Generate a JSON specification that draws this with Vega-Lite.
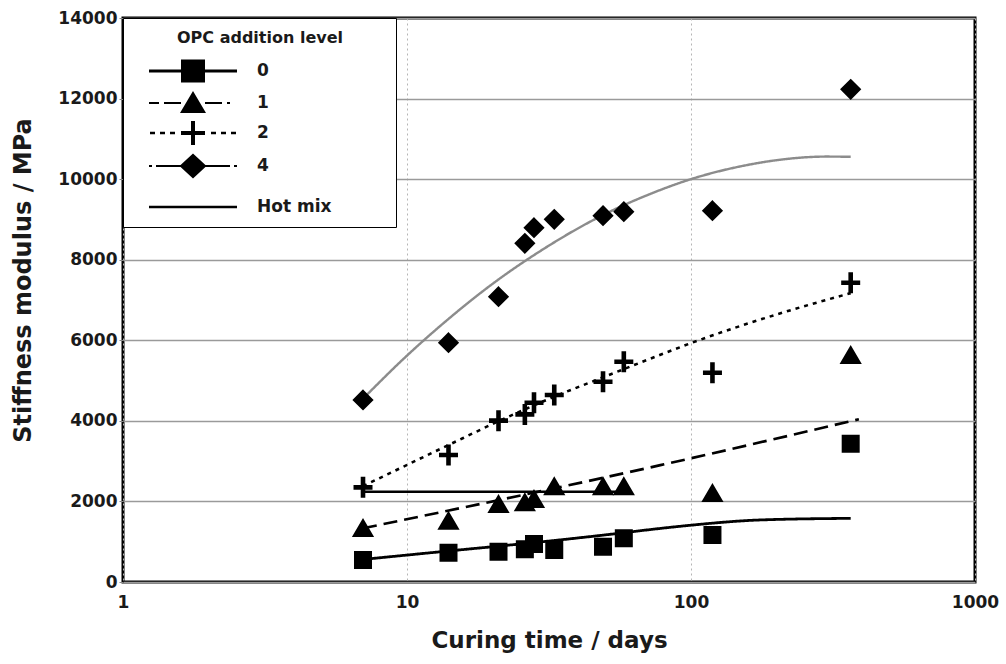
{
  "$schema": "https://vega.github.io/schema/vega-lite/v6.json",
  "width": 852,
  "height": 564,
  "autosize": {"type": "none"},
  "padding": {"left": 123, "top": 18, "right": 31, "bottom": 82},
  "background": "white",
  "config": {
    "font": "DejaVu Sans",
    "view": {"stroke": "black", "strokeWidth": 3},
    "axis": {
      "labelFont": "DejaVu Sans",
      "labelFontWeight": "bold",
      "labelFontSize": 17,
      "labelColor": "#1a1a1a",
      "titleFont": "DejaVu Sans",
      "titleFontWeight": "bold",
      "titleFontSize": 23,
      "titleColor": "#1a1a1a",
      "domain": false
    }
  },
  "datasets": {
    "points": [
      {"level": "0", "t": 7, "E": 546}, {"level": "0", "t": 14, "E": 728}, {"level": "0", "t": 21, "E": 752}, {"level": "0", "t": 26, "E": 811}, {"level": "0", "t": 28, "E": 943}, {"level": "0", "t": 33, "E": 794}, {"level": "0", "t": 49, "E": 877}, {"level": "0", "t": 58, "E": 1084}, {"level": "0", "t": 119, "E": 1167}, {"level": "0", "t": 365, "E": 3433},
      {"level": "1", "t": 7, "E": 1316}, {"level": "1", "t": 14, "E": 1497}, {"level": "1", "t": 21, "E": 1911}, {"level": "1", "t": 26, "E": 1953}, {"level": "1", "t": 28, "E": 2035}, {"level": "1", "t": 33, "E": 2350}, {"level": "1", "t": 49, "E": 2350}, {"level": "1", "t": 58, "E": 2350}, {"level": "1", "t": 119, "E": 2184}, {"level": "1", "t": 365, "E": 5610},
      {"level": "2", "t": 7, "E": 2350}, {"level": "2", "t": 14, "E": 3152}, {"level": "2", "t": 21, "E": 4005}, {"level": "2", "t": 26, "E": 4160}, {"level": "2", "t": 28, "E": 4450}, {"level": "2", "t": 33, "E": 4642}, {"level": "2", "t": 49, "E": 4972}, {"level": "2", "t": 58, "E": 5469}, {"level": "2", "t": 119, "E": 5196}, {"level": "2", "t": 365, "E": 7430},
      {"level": "4", "t": 7, "E": 4518}, {"level": "4", "t": 14, "E": 5940}, {"level": "4", "t": 21, "E": 7082}, {"level": "4", "t": 26, "E": 8407}, {"level": "4", "t": 28, "E": 8795}, {"level": "4", "t": 33, "E": 9003}, {"level": "4", "t": 49, "E": 9093}, {"level": "4", "t": 58, "E": 9193}, {"level": "4", "t": 119, "E": 9217}, {"level": "4", "t": 365, "E": 12230}
    ],
    "fits": [
      {"fit": "0", "t": 7, "E": 560}, {"fit": "0", "t": 14, "E": 770}, {"fit": "0", "t": 21, "E": 890}, {"fit": "0", "t": 33, "E": 1030}, {"fit": "0", "t": 50, "E": 1170}, {"fit": "0", "t": 78, "E": 1330}, {"fit": "0", "t": 100, "E": 1410}, {"fit": "0", "t": 175, "E": 1540}, {"fit": "0", "t": 365, "E": 1580},
      {"fit": "1", "t": 7, "E": 1333}, {"fit": "1", "t": 78, "E": 2900}, {"fit": "1", "t": 390, "E": 4040},
      {"fit": "2", "t": 7, "E": 2380}, {"fit": "2", "t": 14, "E": 3400}, {"fit": "2", "t": 21, "E": 3990}, {"fit": "2", "t": 33, "E": 4600}, {"fit": "2", "t": 49, "E": 5080}, {"fit": "2", "t": 78, "E": 5640}, {"fit": "2", "t": 100, "E": 5930}, {"fit": "2", "t": 200, "E": 6640}, {"fit": "2", "t": 365, "E": 7170},
      {"fit": "4", "t": 7, "E": 4550}, {"fit": "4", "t": 10, "E": 5620}, {"fit": "4", "t": 14, "E": 6530}, {"fit": "4", "t": 20, "E": 7400}, {"fit": "4", "t": 30, "E": 8250}, {"fit": "4", "t": 50, "E": 9140}, {"fit": "4", "t": 70, "E": 9600}, {"fit": "4", "t": 100, "E": 10000}, {"fit": "4", "t": 150, "E": 10320}, {"fit": "4", "t": 200, "E": 10470}, {"fit": "4", "t": 300, "E": 10560}, {"fit": "4", "t": 365, "E": 10555},
      {"fit": "Hot mix", "t": 7, "E": 2240}, {"fit": "Hot mix", "t": 60, "E": 2240}
    ],
    "legendItems": [
      {"level": "0"}, {"level": "1"}, {"level": "2"}, {"level": "4"}, {"level": "Hot mix"}
    ]
  },
  "resolve": {"scale": {"shape": "independent"}, "legend": {"shape": "independent"}},
  "layer": [
    {
      "data": {"name": "fits"},
      "mark": {"type": "line", "interpolate": "monotone", "strokeCap": "butt"},
      "encoding": {
        "x": {
          "field": "t", "type": "quantitative",
          "scale": {"type": "log", "domain": [1, 1000], "nice": false},
          "axis": {
            "title": "Curing time / days",
            "values": [1, 10, 100, 1000],
            "format": "d",
            "labelFlush": false,
            "ticks": false,
            "tickSize": 0,
            "labelPadding": 12,
            "titlePadding": 19,
            "grid": true,
            "gridColor": "#b5b5b5",
            "gridDash": [2, 3],
            "gridWidth": 1
          }
        },
        "y": {
          "field": "E", "type": "quantitative",
          "scale": {"domain": [0, 14000], "nice": false},
          "axis": {
            "title": "Stiffness modulus / MPa",
            "values": [0, 2000, 4000, 6000, 8000, 10000, 12000, 14000],
            "format": "d",
            "grid": true,
            "gridColor": "#9a9a9a",
            "gridWidth": 1.5,
            "tickSize": 4,
            "tickColor": "#888888",
            "labelPadding": 2,
            "titleFontSize": 24,
            "titleX": -100,
            "titleY": 262,
            "titleAlign": "center",
            "titleBaseline": "middle"
          }
        },
        "detail": {"field": "fit", "type": "nominal"},
        "color": {
          "field": "fit", "type": "nominal",
          "scale": {"domain": ["0", "1", "2", "4", "Hot mix"], "range": ["black", "black", "black", "#8c8c8c", "black"]},
          "legend": null
        },
        "strokeDash": {
          "field": "fit", "type": "nominal",
          "scale": {"domain": ["0", "1", "2", "4", "Hot mix"], "range": [[1, 0], [14, 7], [4, 5], [1, 0], [1, 0]]},
          "legend": null
        },
        "strokeWidth": {
          "field": "fit", "type": "nominal",
          "scale": {"domain": ["0", "1", "2", "4", "Hot mix"], "range": [2.8, 2.3, 2.6, 1.3, 3.2]},
          "legend": null
        }
      }
    },
    {
      "data": {"name": "points"},
      "mark": {"type": "point", "filled": true, "fill": "black", "stroke": "black", "strokeWidth": 3, "size": 400, "opacity": 1},
      "encoding": {
        "x": {"field": "t", "type": "quantitative"},
        "y": {"field": "E", "type": "quantitative"},
        "shape": {
          "field": "level", "type": "nominal",
          "scale": {
            "domain": ["0", "1", "2", "4"],
            "range": [
              "M-0.75,-0.75L0.75,-0.75L0.75,0.75L-0.75,0.75Z",
              "M0,-0.8L0.85,0.65L-0.85,0.65Z",
              "M-0.08,-0.9L0.08,-0.9L0.08,-0.08L0.8,-0.08L0.8,0.08L0.08,0.08L0.08,0.9L-0.08,0.9L-0.08,0.08L-0.8,0.08L-0.8,-0.08L-0.08,-0.08Z",
              "M0,-0.85L0.85,0L0,0.85L-0.85,0Z"
            ]
          },
          "legend": null
        }
      }
    },
    {
      "data": {"name": "legendItems"},
      "transform": [{"filter": "false"}],
      "mark": {"type": "point", "filled": true, "fill": "black", "size": 400, "opacity": 1},
      "encoding": {
        "shape": {
          "field": "level", "type": "nominal",
          "scale": {
            "domain": ["0", "1", "2", "4", "Hot mix"],
            "range": [
              "M-4.4,-0.14L4.4,-0.14L4.4,0.14L-4.4,0.14ZM-1.2,-1.15L1.2,-1.15L1.2,1.15L-1.2,1.15Z",
              "M-4.4,-0.11L-3.4,-0.11L-3.4,0.11L-4.4,0.11ZM-2.9,-0.11L-1.2,-0.11L-1.2,0.11L-2.9,0.11ZM1.2,-0.11L2.9,-0.11L2.9,0.11L1.2,0.11ZM3.4,-0.11L3.7,-0.11L3.7,0.11L3.4,0.11ZM0,-1.2L1.3,1L-1.3,1Z",
              "M-4.3,-0.12L-3.8,-0.12L-3.8,0.12L-4.3,0.12ZM-3.3,-0.12L-2.8,-0.12L-2.8,0.12L-3.3,0.12ZM-2.3,-0.12L-1.8,-0.12L-1.8,0.12L-2.3,0.12ZM1.8,-0.12L2.3,-0.12L2.3,0.12L1.8,0.12ZM2.8,-0.12L3.3,-0.12L3.3,0.12L2.8,0.12ZM3.8,-0.12L4.3,-0.12L4.3,0.12L3.8,0.12ZM-1.2,-0.2L1.2,-0.2L1.2,0.2L-1.2,0.2ZM-0.2,-1.2L0.2,-1.2L0.2,1.2L-0.2,1.2Z",
              "M-4.4,-0.11L-4.1,-0.11L-4.1,0.11L-4.4,0.11ZM-3.7,-0.11L-1.2,-0.11L-1.2,0.11L-3.7,0.11ZM1.2,-0.11L3.7,-0.11L3.7,0.11L1.2,0.11ZM4.1,-0.11L4.4,-0.11L4.4,0.11L4.1,0.11ZM0,-1.25L1.35,0L0,1.25L-1.35,0Z",
              "M0,-2.0M-4.4,-0.13L4.4,-0.13L4.4,0.13L-4.4,0.13ZM18.8,0"
            ]
          },
          "legend": {
            "title": "OPC addition level",
            "orient": "top-left",
            "offset": 0,
            "padding": 12,
            "strokeColor": "black",
            "fillColor": "white",
            "titleFont": "DejaVu Sans",
            "titleFontWeight": "bold",
            "titleFontSize": 16,
            "titleColor": "#1a1a1a",
            "titleAnchor": "middle",
            "titlePadding": 14,
            "labelFont": "DejaVu Sans",
            "labelFontWeight": "bold",
            "labelFontSize": 17,
            "labelColor": "#1a1a1a",
            "symbolSize": 400,
            "symbolOffset": 47,
            "labelOffset": 53,
            "rowPadding": 2,
            "symbolFillColor": "black",
            "symbolOpacity": 1
          }
        }
      }
    }
  ]
}
